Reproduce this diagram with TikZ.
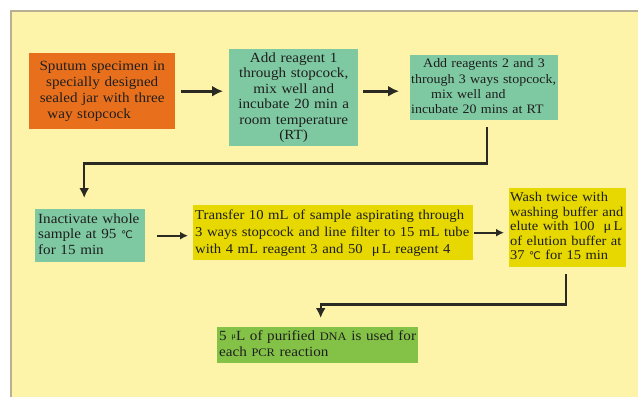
\documentclass[tikz,border=0pt]{standalone}
\usepackage{fontspec}
\setmainfont[FakeStretch=1.08]{Liberation Serif}
\newfontfamily\dvfont{DejaVu Sans}
\usetikzlibrary{arrows.meta}
\definecolor{bgyel}{HTML}{FDF4A9}
\definecolor{framec}{HTML}{B8B095}
\definecolor{orangebox}{HTML}{E8701D}
\definecolor{greenbox}{HTML}{7FC9A2}
\definecolor{yelbox}{HTML}{E6D800}
\definecolor{pcrbox}{HTML}{84C247}
\definecolor{arrowc}{HTML}{2A2A22}
\definecolor{txt}{HTML}{1E1E1E}
\newcommand{\degc}{{\dvfont\fontsize{10.5}{10}\selectfont ℃}}
\newcommand{\lns}[2]{\begin{tabular}{@{}#1@{}}#2\end{tabular}}
\tikzset{
  box/.style={anchor=north west, inner xsep=3pt, inner ysep=2pt, text=txt,
    font=\fontsize{14}{15.5}\selectfont},
  conn/.style={draw=arrowc, line width=2pt, -{Latex[length=8pt,width=8pt]}},
  bigconn/.style={draw=arrowc, line width=2.8pt, -{Latex[length=11pt,width=11pt]}},
}
\begin{document}
\begin{tikzpicture}[x=1pt,y=-1pt]
\useasboundingbox (0,0) rectangle (638,397);
\fill[bgyel] (11,11) rectangle (638,397);
\draw[framec, line width=1.5pt] (11,397) -- (11,11) -- (638,11);

\node[box, fill=orangebox, minimum width=146pt, minimum height=76pt, text width=140pt, align=center,
  font=\fontsize{14}{16}\selectfont] (A) at (29,53)
  {\lns{c}{Sputum specimen in\\ specially designed\\ sealed jar with three\\ way stopcock\hspace*{26pt}}};
\node[box, fill=greenbox, minimum width=129pt, minimum height=94pt, text width=123pt, align=center] (B) at (229,49)
  {\lns{c}{Add reagent 1\\ through stopcock,\\ mix well and\\ incubate 20 min a\\ room temperature\\ (RT)}};
\node[box, fill=greenbox, minimum width=148pt, minimum height=65pt, text width=146pt, inner xsep=1pt, align=left,
  font=\fontsize{12.9}{15.2}\selectfont] (C) at (410,55)
  {\lns{l}{\hspace*{12pt}Add reagents 2 and 3\\ through 3 ways stopcock,\\ \hspace*{20pt}mix well and\\ incubate 20 mins at RT}};
\node[box, fill=greenbox, minimum width=110pt, minimum height=53pt, text width=104pt, align=left] (D) at (35,209)
  {\lns{l}{Inactivate whole\\ sample at 95 \degc\\ for 15 min}};
\node[box, fill=yelbox, minimum width=280pt, minimum height=52pt, text width=276pt, inner xsep=2pt, align=left,
  font=\fontsize{13.6}{17}\selectfont] (E) at (193,205)
  {\lns{l}{Transfer 10 mL of sample aspirating through\\ 3 ways stopcock and line filter to 15 mL tube\\ with 4 mL reagent 3 and 50 \ μ\,L reagent 4}};
\node[box, fill=yelbox, minimum width=117pt, minimum height=79pt, text width=115pt, inner xsep=1pt, align=left,
  font=\fontsize{13.4}{14.6}\selectfont] (F) at (509,188)
  {\lns{l}{Wash twice with\\ washing buffer and\\ elute with 100 \ μ\,L\\ of elution buffer at\\ 37 \degc\ for 15 min}};
\node[box, fill=pcrbox, minimum width=201pt, minimum height=36pt, text width=197pt, inner xsep=2pt, align=left] (G) at (217,327)
  {\lns{l}{5 \raisebox{2pt}{\fontsize{8}{8}\selectfont μ}L of purified {\fontsize{11.5}{11}\selectfont DNA} is used for\\ each {\fontsize{11.5}{11}\selectfont PCR} reaction}};

\draw[bigconn, shorten <=6pt, shorten >=6pt] (A.east) -- (A.east -| B.west);
\draw[bigconn, shorten <=5pt, shorten >=11pt] (A.east -| B.east) -- (A.east -| C.west);
\draw[conn, line width=2.4pt, -{Latex[length=10pt,width=10pt]}, shorten <=7pt, shorten >=11pt] ([xshift=3pt]C.south) -- ++(0,43) -| ([xshift=-6pt]D.north);
\draw[conn, shorten <=12pt, shorten >=5pt] (D.east) -- (D.east -| E.west);
\draw[conn, shorten <=1pt, shorten >=5pt] (E.east) -- (E.east -| F.west);
\draw[conn, line width=2.4pt, -{Latex[length=10pt,width=10pt]}, shorten <=7pt, shorten >=9pt] ([xshift=-2pt]F.south) -- ++(0,37) -| ([xshift=3pt]G.north);
\end{tikzpicture}
\end{document}
